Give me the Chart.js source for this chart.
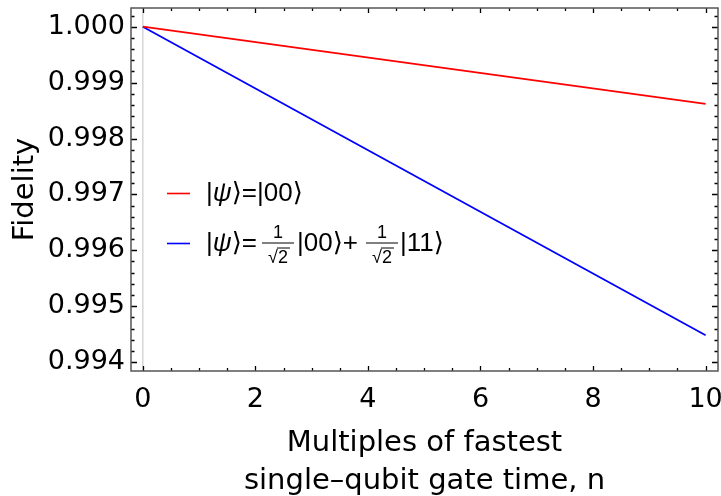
<!DOCTYPE html>
<html>
<head>
<meta charset="utf-8">
<script src="https://cdn.jsdelivr.net/npm/chart.js@4/dist/chart.umd.min.js"></script>
<style>
html,body{margin:0;padding:0;background:#fff;}
#wrap{width:721px;height:496px;position:relative;}
</style>
</head>
<body>
<div id="wrap"><canvas id="c" width="721" height="496"></canvas></div>
<script>
// ---- data ----
const nValues = [0, 10];
const fidelity00 = [1.0, 0.99862];
const fidelityBell = [1.0, 0.99448];
const xMajorTicks = [0, 2, 4, 6, 8, 10];
const yMajorTicks = [0.994, 0.995, 0.996, 0.997, 0.998, 0.999, 1.000];
const xTitleLines = ["Multiples of fastest", "single\u2013qubit gate time, n"];
const yTitle = "Fidelity";

const TITLE_FONT = '29px "DejaVu Sans"';
const LEG_FONT = 'Arial, "Liberation Sans", "DejaVu Sans"';

function pts(xs, ys){ return xs.map((x,i)=>({x:x, y:ys[i]})); }

const framePlugin = {
  id: 'frame',
  beforeDatasetsDraw(chart){
    const {ctx, chartArea:a, scales} = chart;
    const x0 = scales.x.getPixelForValue(0);
    ctx.save();
    ctx.strokeStyle = '#d6d6d6';
    ctx.lineWidth = 1.5;
    ctx.beginPath(); ctx.moveTo(x0, a.top); ctx.lineTo(x0, a.bottom); ctx.stroke();
    ctx.restore();
  },
  afterDatasetsDraw(chart){
    const {ctx, chartArea:a, scales} = chart;
    const xs = scales.x, ys = scales.y;
    ctx.save();
    ctx.strokeStyle = '#000';
    ctx.lineWidth = 1.3;
    for (let k = 0; k <= 20; k++){
      const v = k*0.5;
      const p = Math.round(xs.getPixelForValue(v))+0.5;
      const len = (k % 4 === 0) ? 5 : 3;
      ctx.beginPath();
      ctx.moveTo(p, a.bottom); ctx.lineTo(p, a.bottom - len);
      ctx.moveTo(p, a.top); ctx.lineTo(p, a.top + len);
      ctx.stroke();
    }
    for (let k = 0; k <= 31; k++){
      const v = 0.994 + k*0.0002;
      if (v > ys.max) break;
      const p = Math.round(ys.getPixelForValue(v))+0.5;
      const len = (k % 5 === 0) ? 6 : 3.5;
      ctx.beginPath();
      ctx.moveTo(a.left, p); ctx.lineTo(a.left + len, p);
      ctx.moveTo(a.right, p); ctx.lineTo(a.right - len, p);
      ctx.stroke();
    }
    ctx.strokeStyle = '#555';
    ctx.lineWidth = 1.5;
    ctx.strokeRect(a.left, a.top, a.right - a.left, a.bottom - a.top);

    ctx.fillStyle = '#000';
    ctx.font = TITLE_FONT;
    ctx.textAlign = 'center';
    ctx.textBaseline = 'alphabetic';
    const cx = (a.left + a.right)/2;
    ctx.fillText(xTitleLines[0], cx, 451);
    ctx.fillText(xTitleLines[1], cx, 489);
    ctx.save();
    ctx.translate(33, (a.top + a.bottom)/2);
    ctx.rotate(-Math.PI/2);
    ctx.fillText(yTitle, 0, 0);
    ctx.restore();

    drawLegend(ctx, chart);
    ctx.restore();
  }
};

function drawLegend(ctx, chart){
  const ds = chart.data.datasets;
  const sz = 26;
  const rows = [193.5, 243.5];
  const norm = sz + 'px ' + LEG_FONT;
  const ital = 'italic ' + sz + 'px ' + LEG_FONT;
  ctx.textBaseline = 'middle';
  ds.forEach((d, i) => {
    const y = rows[i];
    ctx.strokeStyle = d.borderColor;
    ctx.lineWidth = 1.6;
    ctx.beginPath(); ctx.moveTo(167, y); ctx.lineTo(190, y); ctx.stroke();
    ctx.fillStyle = '#000';
    ctx.textAlign = 'left';
    let x = 206;
    const put = (t, font) => { ctx.font = font; ctx.fillText(t, x, y); x += ctx.measureText(t).width; };
    put('|', norm); put('\u03C8', ital); put('\u27E9=', norm);
    if (i === 0){
      put('|00\u27E9', norm);
    } else {
      const frac = (fx) => {
        const w = 34;
        ctx.font = '18px ' + LEG_FONT;
        ctx.textAlign = 'center';
        ctx.fillText('1', fx + w/2, y - 10);
        ctx.fillText('\u221A2', fx + w/2, y + 15);
        ctx.textAlign = 'left';
        ctx.lineWidth = 1;
        ctx.strokeStyle = '#000';
        ctx.beginPath(); ctx.moveTo(fx + 1, y - 0.5); ctx.lineTo(fx + w - 1, y - 0.5); ctx.stroke();
        ctx.beginPath(); ctx.moveTo(fx + w/2 - 1, y + 4.5); ctx.lineTo(fx + w/2 + 12, y + 4.5); ctx.stroke();
      };
      frac(261); x = 297; put('|00\u27E9+', norm);
      frac(365); x = 400; put('|11\u27E9', norm);
    }
  });
}

new Chart(document.getElementById('c'), {
  type: 'scatter',
  data: {
    datasets: [
      { label: '|\u03C8\u27E9=|00\u27E9', data: pts(nValues, fidelity00), showLine: true,
        borderColor: '#ff0000', borderWidth: 1.8, pointRadius: 0, fill: false },
      { label: '|\u03C8\u27E9=(|00\u27E9+|11\u27E9)/\u221A2', data: pts(nValues, fidelityBell), showLine: true,
        borderColor: '#0000ff', borderWidth: 1.8, pointRadius: 0, fill: false }
    ]
  },
  options: {
    responsive: false,
    animation: false,
    devicePixelRatio: 1,
    layout: { padding: { top: 8, right: 3, left: 0, bottom: 0 } },
    plugins: { legend: { display: false }, tooltip: { enabled: false } },
    scales: {
      x: {
        type: 'linear', min: -0.21, max: 10.22,
        grid: { display: false, drawTicks: false }, border: { display: false },
        afterBuildTicks: s => { s.ticks = xMajorTicks.map(v => ({ value: v })); },
        afterFit: s => { s.height = 125; s.paddingLeft = 0; s.paddingRight = 0; },
        ticks: { font: { family: 'DejaVu Sans', size: 27 }, color: '#000', padding: 13,
                 maxRotation: 0, autoSkip: false, callback: v => String(v) }
      },
      y: {
        type: 'linear', min: 0.99384, max: 1.000335,
        grid: { display: false, drawTicks: false }, border: { display: false },
        afterBuildTicks: s => { s.ticks = yMajorTicks.map(v => ({ value: v })); },
        afterFit: s => { s.width = 131; s.paddingTop = 0; s.paddingBottom = 0; },
        ticks: { font: { family: 'DejaVu Sans', size: 27 }, color: '#000', padding: 6,
                 autoSkip: false, callback: v => Number(v).toFixed(3) }
      }
    }
  },
  plugins: [framePlugin]
});
</script>
</body>
</html>
